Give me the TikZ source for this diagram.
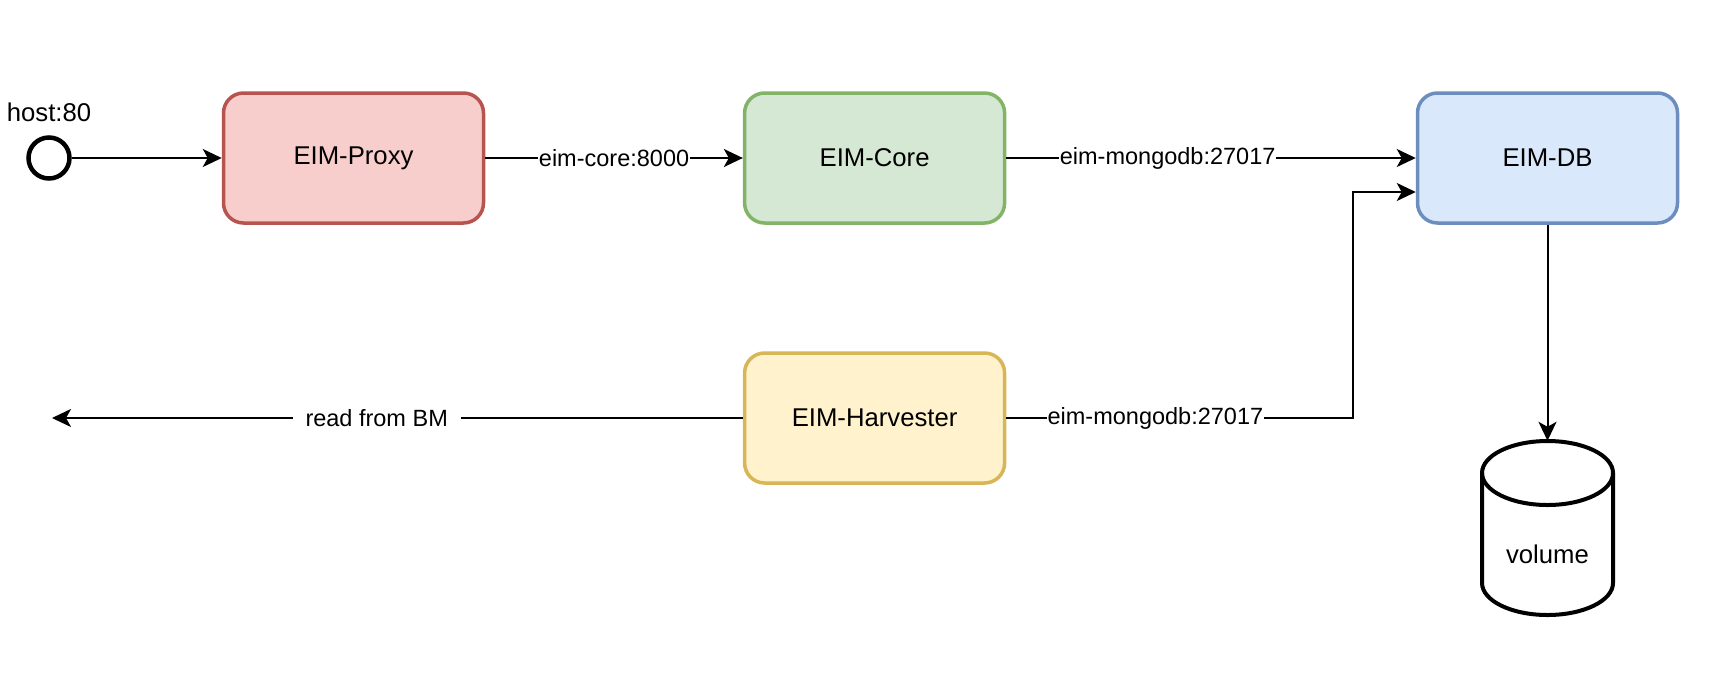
\documentclass[tikz,border=0pt]{standalone}
\usepackage{fontspec}
\setmainfont{Liberation Sans}
\usetikzlibrary{arrows.meta,shapes.geometric}
\definecolor{redfill}{HTML}{F8CECC}
\definecolor{redline}{HTML}{B85450}
\definecolor{greenfill}{HTML}{D5E8D4}
\definecolor{greenline}{HTML}{82B366}
\definecolor{bluefill}{HTML}{DAE8FC}
\definecolor{blueline}{HTML}{6C8EBF}
\definecolor{yellowfill}{HTML}{FFF2CC}
\definecolor{yellowline}{HTML}{D6B656}
\tikzset{
  svc/.style={rectangle, rounded corners=20pt, line width=3.5pt, minimum width=260pt, minimum height=130pt, inner sep=0pt, font=\fontsize{25.7}{30}\selectfont},
  conn/.style={line width=2pt, -{Stealth[length=19pt,width=18pt,inset=5pt]}},
  lbl/.style={fill=white, inner xsep=1pt, inner ysep=2pt, font=\fontsize{23.5}{28}\selectfont},
  cyl/.style={line width=4pt},
  plain/.style={inner sep=0pt, font=\fontsize{25.7}{30}\selectfont}
}
\begin{document}
\begin{tikzpicture}[x=1pt,y=-1pt]
\useasboundingbox (0,0) rectangle (1710,673);
% nodes
\node[circle, draw, line width=4.5pt, minimum size=41pt, inner sep=0pt] (host) at (49,158) {};
\node[plain] (hostlbl) at (49,112) {host:80};
\node[svc, draw=redline, fill=redfill] (proxy) at (353.5,158) {EIM-Proxy};
\node[svc, draw=greenline, fill=greenfill] (core) at (874.6,158) {EIM-Core};
\node[svc, draw=blueline, fill=bluefill] (db) at (1547.5,158) {EIM-DB};
\node[svc, draw=yellowline, fill=yellowfill] (harv) at (874.6,418) {EIM-Harvester};
% cylinder
\node[minimum width=131pt, minimum height=174pt, inner sep=0pt] (vol) at (1547.5,528) {};
\draw[cyl] (1482,473) -- (1482,583) arc[start angle=180, end angle=360, x radius=65.5pt, y radius=32pt] -- (1613,473) arc[start angle=0, end angle=180, x radius=65.5pt, y radius=32pt];
\draw[cyl] (1482,473) arc[start angle=180, end angle=360, x radius=65.5pt, y radius=32pt];
\node[plain] (vollbl) at (1547.5,554) {volume};
% coordinates
\coordinate (bmend) at (52,418);
\coordinate (bend) at (1353,418);
% connectors
\draw[conn] (host) -- (proxy);
\draw[conn] (proxy) -- node[lbl, pos=0.5] {eim-core:8000} (core);
\draw[conn] (core) -- node[lbl, pos=0.394] {eim-mongodb:27017} (db);
\draw[conn] (harv.east) -- node[lbl, pos=0.43] {eim-mongodb:27017} (bend) |- ([yshift=-34pt]db.west);
\draw[conn] (harv.west) -- node[lbl, pos=0.53, inner xsep=13pt] {read from BM} (bmend);
\draw[conn] (db.south) -- (vol.north);
\end{tikzpicture}
\end{document}
